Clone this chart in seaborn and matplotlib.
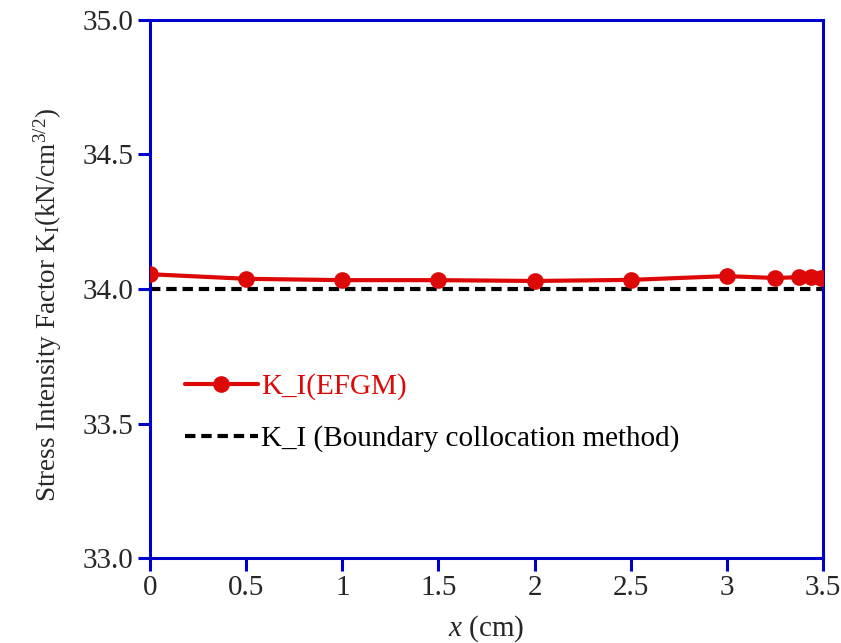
import matplotlib
matplotlib.use("Agg")
import matplotlib.pyplot as plt
import seaborn as sns
import pandas as pd

x_efgm = [0.0, 0.5, 1.0, 1.5, 2.0, 2.5, 3.0, 3.25, 3.375, 3.4375, 3.49]
k_efgm = [34.055, 34.038, 34.033, 34.033, 34.030, 34.034, 34.048, 34.041, 34.044, 34.045, 34.042]
x_bcm = [0.0, 3.5]
k_bcm = [34.0, 34.0]
xticks = [0, 0.5, 1, 1.5, 2, 2.5, 3, 3.5]
xticklabels = ["0", "0.5", "1", "1.5", "2", "2.5", "3", "3.5"]
yticks = [33.0, 33.5, 34.0, 34.5, 35.0]
yticklabels = ["33.0", "33.5", "34.0", "34.5", "35.0"]

sns.set_style("white")
plt.rcParams['font.family'] = ['Liberation Serif', 'DejaVu Serif']
plt.rcParams['mathtext.fontset'] = 'custom'
plt.rcParams['mathtext.rm'] = 'Liberation Serif'
plt.rcParams['mathtext.it'] = 'Liberation Serif:italic'

df1 = pd.DataFrame({"x": x_efgm, "k": k_efgm})
df2 = pd.DataFrame({"x": x_bcm, "k": k_bcm})

fig = plt.figure(figsize=(8.41, 6.43), dpi=100)
ax = fig.add_axes([0.1784, 0.132, 0.8002, 0.837])

red = '#DD0808'
sns.lineplot(data=df1, x="x", y="k", ax=ax, color=red, linewidth=3,
             marker='o', markersize=12, markeredgewidth=0, label="K_I(EFGM)")
sns.lineplot(data=df2, x="x", y="k", ax=ax, color='black', linewidth=3,
             dashes=False, label="K_I (Boundary collocation method)")
ax.lines[-1].set_linestyle((0, (2.5, 1.4)))
ax.lines[0].set_zorder(3)

ax.set_xlim(0, 3.5)
ax.set_ylim(33.0, 35.0)
ax.set_xticks(xticks)
ax.set_xticklabels(xticklabels)
ax.set_yticks(yticks)
ax.set_yticklabels(yticklabels)

blue = '#0000CC'
for s in ax.spines.values():
    s.set_color(blue)
    s.set_linewidth(2.2)
ax.tick_params(axis='x', direction='out', length=9, width=2.2, color=blue,
               labelsize=21, pad=3, bottom=True)
ax.tick_params(axis='y', direction='out', length=9, width=2.2, color=blue,
               labelsize=21, pad=3, left=True)

ax.set_xlabel("$x$ (cm)", fontsize=21, labelpad=9)
ax.set_ylabel("Stress Intensity Factor K$_\\mathrm{I}$(kN/cm$^{3/2}$)", fontsize=19.5)
ax.yaxis.set_label_coords(-0.128, 0.47)

leg = ax.legend(loc='upper left', bbox_to_anchor=(0.052, 0.343), frameon=False,
                borderaxespad=0, borderpad=0,
                fontsize=21, handlelength=2.5, handletextpad=0.1, labelspacing=0.85)
leg.get_texts()[0].set_color(red)
leg.get_texts()[1].set_color('black')

fig.savefig("out.png", dpi=100)
